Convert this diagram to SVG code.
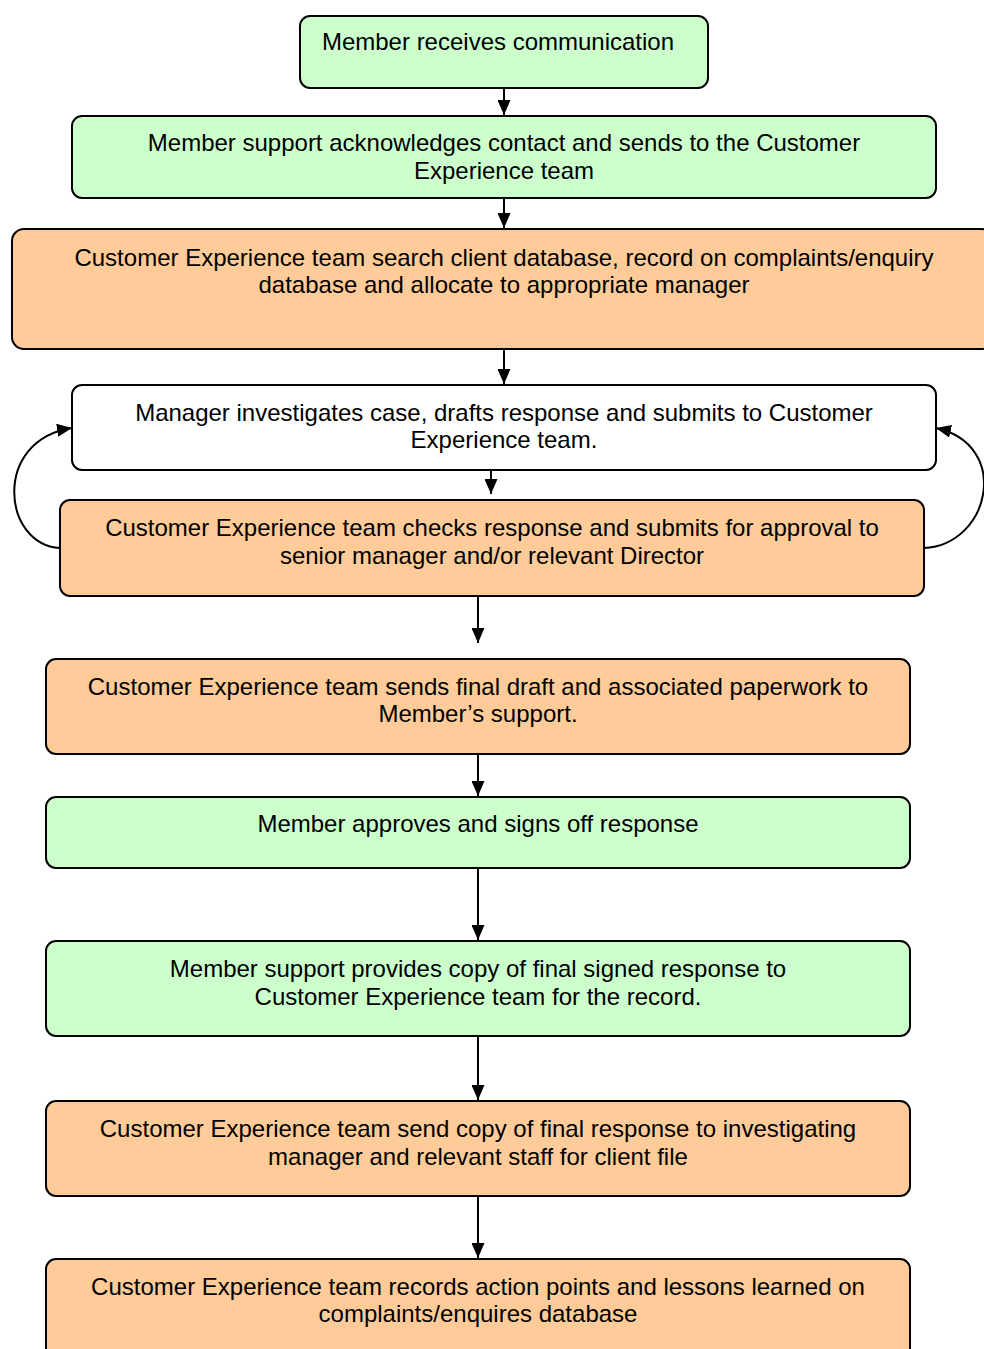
<svg xmlns="http://www.w3.org/2000/svg" width="984" height="1349" viewBox="0 0 984 1349">
<defs>
<style>
.box{stroke:#000;stroke-width:2}
.g{fill:#CCFFCC}
.o{fill:#FFCC99}
.w{fill:#FFFFFF}
text{font-family:"Liberation Sans",Arial,sans-serif;font-size:24px;fill:#000;text-anchor:middle}
.c{stroke:#000;stroke-width:2;fill:none}
</style>
<marker id="ah" markerWidth="15" markerHeight="13" refX="15" refY="6.5" orient="auto" markerUnits="userSpaceOnUse">
<path d="M0,0 L15,6.5 L0,13 Z" fill="#000"/>
</marker>
</defs>
<rect width="984" height="1349" fill="#fff"/>
<g id="connectors">
<line class="c" x1="504" y1="88" x2="504" y2="115" marker-end="url(#ah)"/>
<line class="c" x1="504" y1="198" x2="504" y2="228" marker-end="url(#ah)"/>
<line class="c" x1="504" y1="349" x2="504" y2="384" marker-end="url(#ah)"/>
<line class="c" x1="491" y1="470" x2="491" y2="494" marker-end="url(#ah)"/>
<line class="c" x1="478" y1="596" x2="478" y2="643" marker-end="url(#ah)"/>
<line class="c" x1="478" y1="754" x2="478" y2="796" marker-end="url(#ah)"/>
<line class="c" x1="478" y1="868" x2="478" y2="940" marker-end="url(#ah)"/>
<line class="c" x1="478" y1="1036" x2="478" y2="1100" marker-end="url(#ah)"/>
<line class="c" x1="478" y1="1196" x2="478" y2="1258" marker-end="url(#ah)"/>
<path class="c" d="M60,548 C2,545 -8,440 72,428" marker-end="url(#ah)"/>
<path class="c" d="M924,548 C990,545 1012,445 936,428" marker-end="url(#ah)"/>
</g>
<g id="n1"><rect class="box g" x="300" y="16" width="408" height="72" rx="10"/><text x="498" y="50">Member receives communication</text></g>
<g id="n2"><rect class="box g" x="72" y="116" width="864" height="82" rx="10"/><text x="504" y="151">Member support acknowledges contact and sends to the Customer</text><text x="504" y="179">Experience team</text></g>
<g id="n3"><rect class="box o" x="12" y="229" width="982" height="120" rx="12"/><text x="504" y="266">Customer Experience team search client database, record on complaints/enquiry</text><text x="504" y="293">database and allocate to appropriate manager</text></g>
<g id="n4"><rect class="box w" x="72" y="385" width="864" height="85" rx="10"/><text x="504" y="421">Manager investigates case, drafts response and submits to Customer</text><text x="504" y="448">Experience team.</text></g>
<g id="n5"><rect class="box o" x="60" y="500" width="864" height="96" rx="10"/><text x="492" y="536">Customer Experience team checks response and submits for approval to</text><text x="492" y="564">senior manager and/or relevant Director</text></g>
<g id="n6"><rect class="box o" x="46" y="659" width="864" height="95" rx="10"/><text x="478" y="695">Customer Experience team sends final draft and associated paperwork to</text><text x="478" y="722">Member’s support.</text></g>
<g id="n7"><rect class="box g" x="46" y="797" width="864" height="71" rx="10"/><text x="478" y="832">Member approves and signs off response</text></g>
<g id="n8"><rect class="box g" x="46" y="941" width="864" height="95" rx="10"/><text x="478" y="977">Member support provides copy of final signed response to</text><text x="478" y="1005">Customer Experience team for the record.</text></g>
<g id="n9"><rect class="box o" x="46" y="1101" width="864" height="95" rx="10"/><text x="478" y="1137">Customer Experience team send copy of final response to investigating</text><text x="478" y="1165">manager and relevant staff for client file</text></g>
<g id="n10"><rect class="box o" x="46" y="1259" width="864" height="110" rx="10"/><text x="478" y="1295">Customer Experience team records action points and lessons learned on</text><text x="478" y="1322">complaints/enquires database</text></g>
</svg>
